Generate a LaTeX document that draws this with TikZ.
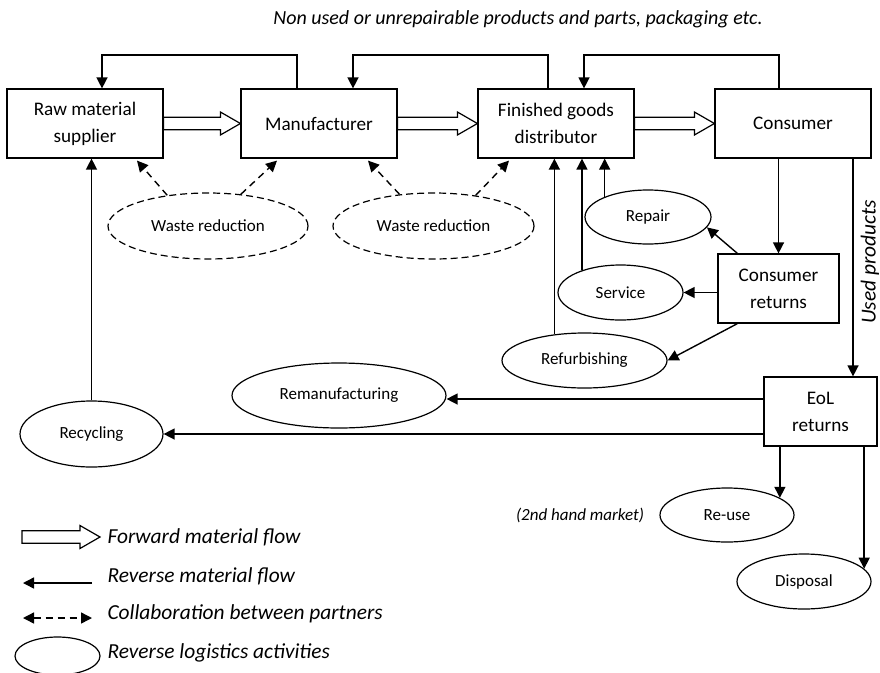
\documentclass[tikz,border=0pt]{standalone}
\usepackage{fontspec}
\setmainfont{Carlito}
\usetikzlibrary{arrows.meta,calc,shapes.geometric}

% forward (hollow) flow arrow from #1 to the tip #2
\newcommand\hollowarrow[2]{%
  \draw[fwdline] ($(#1)+(0,6.3)$) -- ($(#2)+(-20,6.3)$) -- ($(#2)+(-20,11.5)$)
    -- (#2) -- ($(#2)+(-20,-11.5)$) -- ($(#2)+(-20,-6.3)$) -- ($(#1)+(0,-6.3)$) -- cycle;}

\begin{document}
\begin{tikzpicture}[x=1pt,y=-1pt,
  stage/.style={draw, line width=1.2pt, rectangle, inner sep=0pt, align=center,
    font=\fontsize{19.2}{27}\selectfont},
  activity/.style={draw, line width=1.2pt, ellipse, inner sep=0pt,
    font=\fontsize{17}{20}\selectfont},
  wastebox/.style={activity, dash pattern=on 7pt off 4pt},
  rev/.style={line width=1.4pt, -{Triangle[length=11pt,width=11pt]}},
  collab/.style={line width=1.4pt, dash pattern=on 7pt off 5pt, -{Triangle[length=11pt,width=11pt]}},
  fwdline/.style={line width=1.2pt, fill=white, line join=miter},
  note/.style={font=\fontsize{20}{24}\selectfont\itshape},
  legendtext/.style={font=\fontsize{21.4}{25}\selectfont\itshape, anchor=west}]

\useasboundingbox (0,0) rectangle (880,672);

% supply chain stages
\node[stage, minimum width=156pt, minimum height=69pt] (raw) at (85,123.5) {Raw material\\supplier};
\node[stage, minimum width=156pt, minimum height=69pt] (man) at (319,123.5) {Manufacturer};
\node[stage, minimum width=156pt, minimum height=69pt] (fgd) at (556,123.5) {Finished goods\\distributor};
\node[stage, minimum width=156pt, minimum height=69pt] (con) at (793,123.5) {Consumer};
\node[stage, minimum width=121pt, minimum height=69pt] (cr) at (778.5,288.5) {Consumer\\returns};
\node[stage, minimum width=113pt, minimum height=69pt] (eol) at (820.5,411.5) {EoL\\returns};

% reverse logistics activities
\node[wastebox, minimum width=200pt, minimum height=66pt] (wr1) at (208,226) {Waste reduction};
\node[wastebox, minimum width=201pt, minimum height=66pt] (wr2) at (433.5,226) {Waste reduction};
\node[activity, minimum width=126pt, minimum height=54pt] (repair) at (648,217) {Repair};
\node[activity, minimum width=125pt, minimum height=55pt] (service) at (620.5,292.5) {Service};
\node[activity, minimum width=165pt, minimum height=55pt] (refurb) at (584.5,360.5) {Refurbishing};
\node[activity, minimum width=214pt, minimum height=65pt] (reman) at (339,395.5) {Remanufacturing};
\node[activity, minimum width=143pt, minimum height=66pt] (recyc) at (91.5,434) {Recycling};
\node[activity, minimum width=134pt, minimum height=54pt] (reuse) at (727,515) {Re-use};
\node[activity, minimum width=134pt, minimum height=55pt] (disp) at (804,581.5) {Disposal};

% texts
\node[note] (top) at (518,19) {Non used or unrepairable products and parts, packaging etc.};
\node[note, font=\fontsize{21.4}{25}\selectfont\itshape, rotate=90, inner sep=0pt] (used) at (870,262) {Used products};
\node[note, font=\fontsize{17}{20}\selectfont\itshape] (hand) at (580,515) {(2nd hand market)};

% forward flows
\hollowarrow{raw.east}{man.west}
\hollowarrow{man.east}{fgd.west}
\hollowarrow{fgd.east}{con.west}

% returns of unused products along the top
\coordinate (t1) at (102,55);  \coordinate (t2) at (297,55);
\coordinate (t3) at (353,55);  \coordinate (t4) at (548,55);
\coordinate (t5) at (584,55);  \coordinate (t6) at (779,55);
\draw[rev] (man.north -| t2) -- (t2) -- (t1) -- (raw.north -| t1);
\draw[rev] (fgd.north -| t4) -- (t4) -- (t3) -- (man.north -| t3);
\draw[rev] (con.north -| t6) -- (t6) -- (t5) -- (fgd.north -| t5);

% collaboration on waste reduction
\draw[collab] (wr1.143) -- ($(raw.south)+(52,2)$);
\draw[collab] (wr1.44) -- ($(man.south)+(-42,2)$);
\draw[collab] (wr2.137) -- ($(man.south)+(49,2)$);
\draw[collab] (wr2.36) -- ($(fgd.south)+(-47,2)$);

% consumer returns
\draw[rev] (con.south -| cr.north) -- (cr.north);
\draw[rev] ($(cr.north west)+(20,0)$) -- (repair.-10);
\draw[rev] (cr.west |- service.east) -- (service.east);
\draw[rev] ($(cr.south west)+(20,0)$) -- (refurb.east);
\draw[rev] (repair.155) -- (repair.155 |- fgd.south);
\draw[rev] (service.150) -- (service.150 |- fgd.south);
\draw[rev] (refurb.139) -- (refurb.139 |- fgd.south);

% end-of-life returns
\coordinate (u) at (853,0);
\coordinate (r1) at (0,399);
\draw[rev] (con.south -| u) -- (eol.north -| u);
\draw[rev] (eol.west |- r1) -- (reman.east |- r1);
\draw[rev] (eol.west |- recyc.east) -- (recyc.east);
\draw[rev] (recyc.north) -- (recyc.north |- raw.south);
\draw[rev] (eol.south -| reuse.18) -- (reuse.18);
\draw[rev] (eol.south -| disp.12) -- (disp.12);

% legend
\coordinate (l1a) at (22,537);  \coordinate (l1b) at (100,537);
\coordinate (l2a) at (92,583);  \coordinate (l2b) at (23,583);
\coordinate (l3a) at (23,618);  \coordinate (l3b) at (92,618);
\hollowarrow{l1a}{l1b}
\draw[rev] (l2a) -- (l2b);
\draw[collab, {Triangle[length=11pt,width=11pt]}-{Triangle[length=11pt,width=11pt]}] (l3a) -- (l3b);
\node[activity, minimum width=85pt, minimum height=38pt] (lell) at (57.5,656) {};
\node[legendtext] (lt1) at (104,537) {Forward material flow};
\node[legendtext] (lt2) at (104,576) {Reverse material flow};
\node[legendtext] (lt3) at (104,614) {Collaboration between partners};
\node[legendtext] (lt4) at (104,653) {Reverse logistics activities};
\end{tikzpicture}
\end{document}
